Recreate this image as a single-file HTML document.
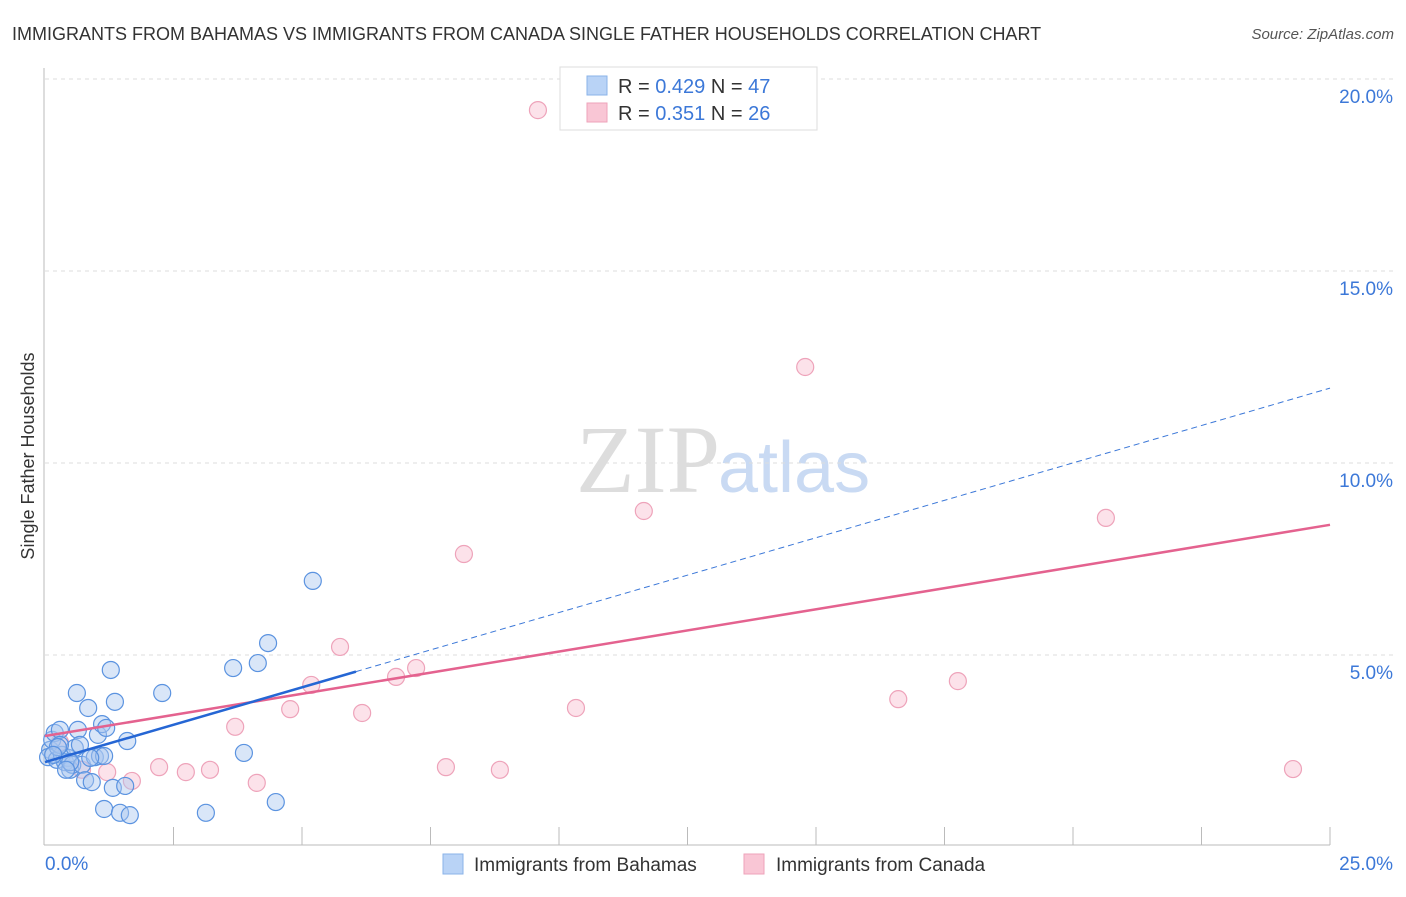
<!DOCTYPE html>
<html><head><meta charset="utf-8"><style>
body{margin:0;background:#fff;font-family:"Liberation Sans",sans-serif}
svg text{font-family:"Liberation Sans",sans-serif}
</style></head><body>
<svg id="c" width="1406" height="892">
<text x="12" y="40" font-size="18" fill="#333">IMMIGRANTS FROM BAHAMAS VS IMMIGRANTS FROM CANADA SINGLE FATHER HOUSEHOLDS CORRELATION CHART</text>
<text x="1394" y="39" font-size="15" fill="#555" font-style="italic" text-anchor="end">Source: ZipAtlas.com</text>
<text x="720" y="492" font-size="96" fill="#ddd" text-anchor="end" font-family="Liberation Serif" style="font-family:'Liberation Serif',serif">ZIP</text>
<text x="718" y="492" font-size="72" fill="#c9daf3">atlas</text>
<text transform="translate(34,456) rotate(-90)" font-size="18" fill="#333" text-anchor="middle">Single Father Households</text>
<g id="grid"></g><g id="marks"></g>
<g>
<rect x="560" y="67" width="257" height="63" fill="#fff" stroke="#ddd"/>
<rect x="587" y="76" width="20" height="19" fill="#b9d3f6" stroke="#8ab3e8"/>
<rect x="587" y="103" width="20" height="19" fill="#f9c6d5" stroke="#eea3ba"/>
<text x="618" y="93" font-size="20" fill="#333">R = <tspan fill="#3c78d8">0.429</tspan>   N = <tspan fill="#3c78d8">47</tspan></text>
<text x="618" y="120" font-size="20" fill="#333">R = <tspan fill="#3c78d8"> 0.351</tspan>   N = <tspan fill="#3c78d8">26</tspan></text>
</g>
<g>
<rect x="443" y="854" width="20" height="20" fill="#b9d3f6" stroke="#8ab3e8"/>
<text x="474" y="871" font-size="19" fill="#333">Immigrants from Bahamas</text>
<rect x="744" y="854" width="20" height="20" fill="#f9c6d5" stroke="#eea3ba"/>
<text x="776" y="871" font-size="19" fill="#333">Immigrants from Canada</text>
</g>
</svg>
<script>
const yTicks=[5,10,15,20];
const yTickLabels=["5.0%","10.0%","15.0%","20.0%"];
const xTickLabels=["0.0%","25.0%"];
const bahamasX=[0.10,0.14,0.19,0.29,0.06,0.23,0.33,0.39,0.45,0.49,0.53,0.58,0.64,0.68,0.72,0.78,0.84,0.91,0.97,1.03,1.07,1.11,1.19,1.15,1.28,1.36,1.32,1.15,1.46,1.56,1.65,1.60,0.62,2.28,3.13,3.66,3.87,4.14,4.34,4.49,5.21,0.29,0.49,0.25,0.41,0.88,0.16];
const bahamasY=[2.53,2.79,2.97,3.05,2.34,2.27,2.40,2.21,2.32,2.01,2.14,2.58,3.05,2.66,2.14,1.74,3.62,1.69,2.34,2.92,2.37,3.20,3.10,2.37,4.61,3.78,1.54,0.99,0.89,1.59,0.83,2.76,4.01,4.01,0.89,4.66,2.45,4.79,5.31,1.17,6.93,2.66,2.21,2.60,2.01,2.32,2.40];
const canadaX=[9.59,14.79,11.65,20.64,8.15,5.74,7.22,6.83,5.18,4.77,6.17,3.70,10.33,16.60,17.76,7.80,8.85,2.22,2.74,3.21,4.12,1.69,1.21,24.28,0.72,0.29];
const canadaY=[19.19,12.50,8.75,8.57,7.63,5.21,4.66,4.43,4.22,3.59,3.49,3.13,3.62,3.85,4.32,2.08,2.01,2.08,1.95,2.01,1.67,1.72,1.95,2.03,2.01,2.73];
const bahamasTrend=[2.21,11.95]; const bahamasSolidEnd=6.05;
const canadaTrend=[2.89,8.39];
const X=v=>45+v*51.4, Y=v=>847-v*38.4;
const NS="http://www.w3.org/2000/svg";
function mk(t,a,p){const e=document.createElementNS(NS,t);for(const k in a)e.setAttribute(k,a[k]);p.appendChild(e);return e;}
const g=document.getElementById('grid'), m=document.getElementById('marks');
yTicks.forEach((t,i)=>{
 const l=mk('line',{x1:45,x2:1393,y1:Y(t),y2:Y(t),stroke:'#ddd','stroke-dasharray':'4,4'},g);
 
 
 const tx=mk('text',{x:1393,y:Y(t)+24,'font-size':19,fill:'#3c78d8','text-anchor':'end'},g);tx.textContent=yTickLabels[i];
 
 
});
mk('line',{x1:44,x2:44,y1:68,y2:845,stroke:'#bbb'},g);
mk('line',{x1:44,x2:1330,y1:845,y2:845,stroke:'#bbb'},g);
for(let i=1;i<=10;i++){mk('line',{x1:X(i*2.5),x2:X(i*2.5),y1:827,y2:845,stroke:'#bbb'},g);}
[[0,'start',45],[1,'end',1393]].forEach(([i,a,x])=>{const t=mk('text',{x:x,y:870,'font-size':19,fill:'#3c78d8','text-anchor':a},g);t.textContent=xTickLabels[i];
 
 });
canadaX.forEach((v,i)=>{const c=mk('circle',{cx:X(v),cy:Y(canadaY[i]),r:8.5,fill:'rgba(249,190,208,0.45)',stroke:'#eea3ba','stroke-width':1.2},m);
 
 });
bahamasX.forEach((v,i)=>{const c=mk('circle',{cx:X(v),cy:Y(bahamasY[i]),r:8.5,fill:'rgba(170,200,240,0.45)',stroke:'#5b93e0','stroke-width':1.2},m);
 
 });
const by=v=>bahamasTrend[0]+(bahamasTrend[1]-bahamasTrend[0])*v/25;
let l=mk('line',{x1:X(bahamasSolidEnd),y1:Y(by(bahamasSolidEnd)),x2:X(25),y2:Y(bahamasTrend[1]),stroke:'#3c78d8','stroke-width':1,'stroke-dasharray':'6,4'},m);


l=mk('line',{x1:X(0),y1:Y(canadaTrend[0]),x2:X(25),y2:Y(canadaTrend[1]),stroke:'#e4628f','stroke-width':2.5},m);


l=mk('line',{x1:X(0),y1:Y(bahamasTrend[0]),x2:X(bahamasSolidEnd),y2:Y(by(bahamasSolidEnd)),stroke:'#2566d4','stroke-width':2.5},m);


</script>
</body></html>
